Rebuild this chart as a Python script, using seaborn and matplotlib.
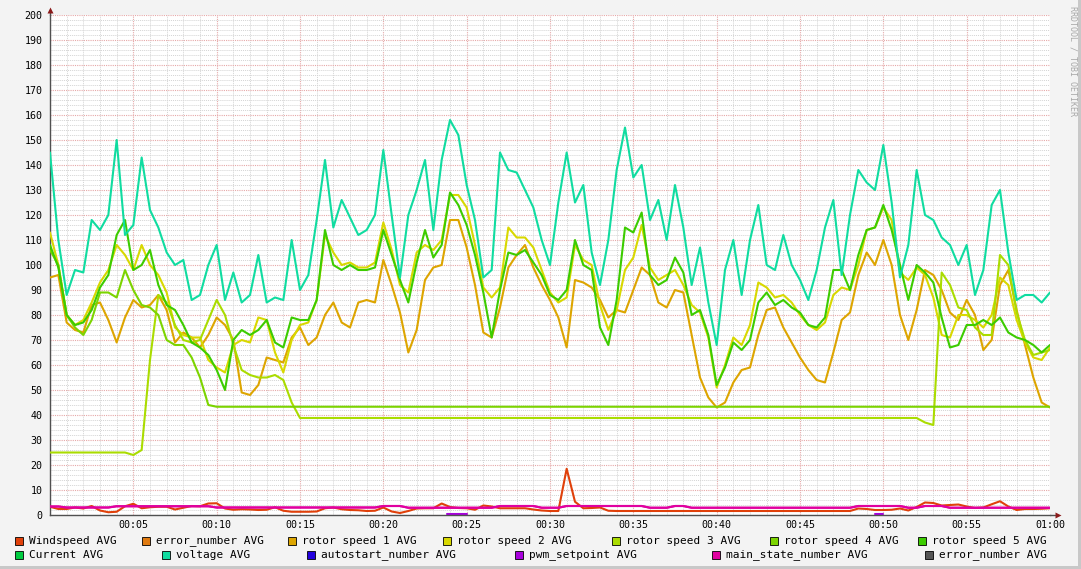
import numpy as np
import pandas as pd
import seaborn as sns
import matplotlib.pyplot as plt
from matplotlib.patches import Rectangle
from matplotlib.lines import Line2D
from matplotlib.ticker import MultipleLocator

# one sample every 30 s over the hour
minutes = np.arange(121) * 0.5

windspeed = [
    3.3, 2.4, 2.4, 3.0, 2.6, 3.6, 1.8, 1.1, 1.3, 3.5,
    4.5, 2.7, 3.1, 3.3, 3.3, 2.2, 2.9, 3.6, 3.5, 4.6,
    4.7, 2.6, 2.1, 2.3, 2.2, 2.0, 2.1, 3.1, 1.7, 1.3,
    1.3, 1.3, 1.4, 2.7, 3.0, 2.3, 2.0, 1.9, 1.6, 1.7,
    3.0, 1.4, 0.8, 1.6, 2.6, 2.7, 2.7, 4.6, 3.2, 2.8,
    2.7, 2.1, 3.8, 3.4, 2.7, 2.7, 2.7, 2.7, 2.2, 1.8,
    1.6, 1.6, 18.5, 5.3, 2.7, 2.8, 3.0, 1.7, 1.6, 1.6,
    1.6, 1.6, 1.6, 1.6, 1.6, 1.6, 1.6, 1.6, 1.6, 1.6,
    1.6, 1.6, 1.6, 1.6, 1.6, 1.6, 1.6, 1.6, 1.6, 1.6,
    1.6, 1.6, 1.6, 1.6, 1.6, 1.6, 1.6, 2.6, 2.4, 2.0,
    2.0, 2.1, 2.6, 1.8, 3.2, 5.0, 4.8, 3.8, 4.0, 4.2,
    3.4, 2.8, 3.0, 4.3, 5.5, 3.4, 2.0, 2.4, 2.4, 2.5,
    2.7,
]

rotor1 = [
    95, 96, 77, 74, 73, 84, 85, 78, 69, 79,
    86, 83, 84, 88, 82, 69, 73, 71, 67, 72,
    79, 76, 70, 49, 48, 52, 63, 62, 61, 71,
    75, 68, 71, 80, 85, 77, 75, 85, 86, 85,
    102, 92, 81, 65, 74, 94, 99, 100, 118, 118,
    107, 92, 73, 71, 83, 99, 104, 108, 99, 92,
    86, 79, 67, 94, 93, 91, 86, 79, 82, 81,
    90, 99, 96, 85, 83, 90, 89, 72, 55, 47,
    43, 45, 53, 58, 59, 72, 82, 83, 75, 69,
    63, 58, 54, 53, 65, 78, 81, 96, 105, 100,
    110, 100, 80, 70, 82, 98, 96, 90, 81, 78,
    86, 80, 66, 70, 92, 98, 82, 68, 55, 45,
    43,
]

rotor2 = [
    113, 100, 80, 76, 78, 85, 93, 98, 108, 104,
    98, 108, 100, 96, 89, 75, 72, 71, 71, 62,
    59, 57, 68, 70, 69, 79, 78, 65, 57, 70,
    76, 77, 86, 112, 105, 100, 101, 99, 99, 101,
    117, 106, 92, 89, 105, 108, 106, 110, 128, 128,
    123, 108, 91, 87, 91, 115, 111, 111, 107, 98,
    89, 85, 87, 108, 102, 100, 84, 74, 82, 98,
    103, 116, 99, 94, 96, 98, 92, 84, 81, 71,
    51, 60, 71, 68, 76, 93, 91, 87, 88, 85,
    80, 76, 74, 77, 88, 91, 90, 100, 114, 115,
    123, 118, 97, 94, 99, 96, 87, 72, 71, 80,
    80, 78, 75, 80, 95, 92, 78, 69, 63, 62,
    67,
]

rotor3 = [
    25, 25, 25, 25, 25, 25, 25, 25, 25, 25,
    24, 26, 62, 88, 85, 76, 70, 69, 70, 78,
    86, 80, 68, 58, 56, 55, 55, 56, 54, 45,
    38.8, 38.8, 38.8, 38.8, 38.8, 38.8, 38.8, 38.8, 38.8, 38.8,
    38.8, 38.8, 38.8, 38.8, 38.8, 38.8, 38.8, 38.8, 38.8, 38.8,
    38.8, 38.8, 38.8, 38.8, 38.8, 38.8, 38.8, 38.8, 38.8, 38.8,
    38.8, 38.8, 38.8, 38.8, 38.8, 38.8, 38.8, 38.8, 38.8, 38.8,
    38.8, 38.8, 38.8, 38.8, 38.8, 38.8, 38.8, 38.8, 38.8, 38.8,
    38.8, 38.8, 38.8, 38.8, 38.8, 38.8, 38.8, 38.8, 38.8, 38.8,
    38.8, 38.8, 38.8, 38.8, 38.8, 38.8, 38.8, 38.8, 38.8, 38.8,
    38.8, 38.8, 38.8, 38.8, 38.8,
    37, 36, 97, 92, 83, 82, 75, 72, 72, 104,
    100, 81, 70, 64, 65, 66,
]

rotor4 = [
    106, 100, 80, 75, 72, 78, 89, 89, 87, 98,
    90, 84, 83, 80, 70, 68, 68, 63, 55, 44,
    43.3, 43.3, 43.3, 43.3, 43.3, 43.3, 43.3, 43.3, 43.3, 43.3,
    43.3, 43.3, 43.3, 43.3, 43.3, 43.3, 43.3, 43.3, 43.3, 43.3,
    43.3, 43.3, 43.3, 43.3, 43.3, 43.3, 43.3, 43.3, 43.3, 43.3,
    43.3, 43.3, 43.3, 43.3, 43.3, 43.3, 43.3, 43.3, 43.3, 43.3,
    43.3, 43.3, 43.3, 43.3, 43.3, 43.3, 43.3, 43.3, 43.3, 43.3,
    43.3, 43.3, 43.3, 43.3, 43.3, 43.3, 43.3, 43.3, 43.3, 43.3,
    43.3, 43.3, 43.3, 43.3, 43.3, 43.3, 43.3, 43.3, 43.3, 43.3,
    43.3, 43.3, 43.3, 43.3, 43.3, 43.3, 43.3, 43.3, 43.3, 43.3,
    43.3, 43.3, 43.3, 43.3, 43.3, 43.3, 43.3, 43.3, 43.3, 43.3,
    43.3, 43.3, 43.3, 43.3, 43.3, 43.3, 43.3, 43.3, 43.3, 43.3,
    43.3,
]

rotor5 = [
    108, 99, 80, 76, 77, 82, 91, 96, 112, 118,
    98, 100, 106, 92, 84, 82, 76, 69, 67, 64,
    58, 50, 70, 74, 72, 74, 78, 69, 67, 79,
    78, 78, 86, 114, 100, 98, 100, 98, 98, 99,
    114, 104, 94, 85, 101, 114, 103, 108, 129, 124,
    116, 104, 89, 71, 90, 105, 104, 106, 101, 96,
    88, 86, 90, 110, 100, 98, 75, 68, 86, 115,
    113, 121, 96, 92, 94, 103, 97, 80, 82, 72,
    52, 59, 69, 66, 70, 85, 89, 84, 86, 83,
    81, 76, 75, 79, 98, 98, 90, 104, 114, 115,
    124, 114, 100, 86, 100, 97, 93, 79, 67, 68,
    76, 76, 78, 76, 79, 73, 71, 70, 68, 65,
    68,
]

voltage = [
    145, 110, 88, 98, 97, 118, 114, 120, 150, 112,
    116, 143, 122, 115, 105, 100, 102, 86, 88, 100,
    108, 86, 97, 85, 88, 104, 85, 87, 86, 110,
    90, 96, 118, 142, 115, 126, 119, 112, 114, 120,
    146, 120, 95, 120, 130, 142, 114, 142, 158, 152,
    132, 118, 95, 98, 145, 138, 137, 130, 123, 110,
    100, 125, 145, 125, 132, 105, 92, 110, 138, 155,
    135, 140, 118, 126, 110, 132, 115, 92, 107, 85,
    68, 98, 110, 88, 110, 124, 100, 98, 112, 100,
    94, 86, 98, 115, 126, 96, 120, 138, 133, 130,
    148, 125, 95, 108, 138, 120, 118, 111, 108, 100,
    108, 88, 98, 124, 130, 105, 86, 88, 88, 85,
    89,
]

main_state = [
    3.4, 3.4, 3.0, 3.0, 3.0, 3.0, 3.0, 3.0, 3.5, 3.5,
    3.5, 3.5, 3.5, 3.5, 3.5, 3.5, 3.5, 3.5, 3.5, 3.5,
    3.0, 3.0, 3.0, 3.0, 3.0, 3.0, 3.0, 3.0, 3.0, 3.0,
    3.0, 3.0, 3.0, 3.0, 3.0, 3.0, 3.0, 3.0, 3.0, 3.0,
    3.6, 3.6, 3.6, 2.9, 2.9, 2.9, 2.9, 2.9, 2.9, 2.9,
    2.9, 2.9, 2.9, 2.9, 3.6, 3.6, 3.6, 3.6, 3.6, 2.9,
    2.9, 2.9, 3.6, 3.6, 3.6, 3.6, 3.6, 3.6, 3.6, 3.6,
    3.6, 3.6, 2.9, 2.9, 2.9, 3.6, 3.6, 2.9, 2.9, 2.9,
    2.9, 2.9, 2.9, 2.9, 2.9, 2.9, 2.9, 2.9, 2.9, 2.9,
    2.9, 2.9, 2.9, 2.9, 2.9, 2.9, 2.9, 3.6, 3.6, 3.6,
    3.6, 3.6, 3.6, 2.9, 2.9, 3.6, 3.6, 3.6, 2.9, 2.9,
    2.9, 2.9, 2.9, 2.9, 2.9, 2.9, 2.9, 2.9, 2.9, 2.9,
    2.9,
]

# pwm_setpoint only shows up in two short bursts
pwm_start = [23.8, 49.5]
pwm_end = [25.0, 50.0]
pwm_value = [0.3, 0.3]

legend_labels = [
    'Windspeed AVG', 'error_number AVG', 'rotor speed 1 AVG', 'rotor speed 2 AVG',
    'rotor speed 3 AVG', 'rotor speed 4 AVG', 'rotor speed 5 AVG',
    'Current AVG', 'voltage AVG', 'autostart_number AVG', 'pwm_setpoint AVG',
    'main_state_number AVG', 'error_number AVG ',
]
legend_colors = [
    '#E0400A', '#E07A10', '#DDA500', '#D8D800', '#AADC00', '#7CD400', '#3CCC00',
    '#00CC40', '#10DCA0', '#2200DD', '#A800DD', '#E000A0', '#555555',
]
palette = dict(zip(legend_labels, legend_colors))

series = {
    'Windspeed AVG': windspeed,
    'rotor speed 1 AVG': rotor1,
    'rotor speed 2 AVG': rotor2,
    'rotor speed 3 AVG': rotor3,
    'rotor speed 4 AVG': rotor4,
    'rotor speed 5 AVG': rotor5,
    'voltage AVG': voltage,
    'main_state_number AVG': main_state,
}

df = pd.DataFrame(series)
df['minute'] = minutes
long_df = df.melt(id_vars='minute', var_name='series', value_name='value')

sns.set_theme(style='white')
plt.rcParams['font.family'] = ['DejaVu Sans Mono']

W, H = 1081, 569
fig = plt.figure(figsize=(W / 100, H / 100), dpi=100)
fig.patch.set_facecolor('#F3F3F3')
ax = fig.add_axes([50 / W, 54 / H, 1000 / W, 500 / H])
ax.set_facecolor('white')

hue_order = [l for l in legend_labels if l in series]
sns.lineplot(data=long_df, x='minute', y='value', hue='series', hue_order=hue_order,
             palette=palette, linewidth=1.5, legend=False, estimator=None,
             errorbar=None, ax=ax, zorder=3)
for s, e, v in zip(pwm_start, pwm_end, pwm_value):
    sns.lineplot(x=[s, e], y=[v, v], color=palette['pwm_setpoint AVG'], linewidth=1.5, ax=ax)
# redraw main state on top (it comes after pwm in the legend order)
sns.lineplot(x=minutes, y=main_state, color=palette['main_state_number AVG'],
             linewidth=1.5, ax=ax, zorder=4)

ax.set_xlim(0, 60)
ax.set_ylim(0, 200)
ax.set_xlabel('')
ax.set_ylabel('')

ax.xaxis.set_major_locator(MultipleLocator(5))
ax.xaxis.set_minor_locator(MultipleLocator(1))
ax.yaxis.set_major_locator(MultipleLocator(10))
ax.yaxis.set_minor_locator(MultipleLocator(2))
xt = np.arange(0, 61, 5)
ax.set_xticks(xt)
ax.set_xticklabels([''] + ['%02d:%02d' % (m // 60, m % 60) for m in xt[1:]])

ax.grid(which='minor', color='#D4D4D4', linestyle=(0, (1, 1)), linewidth=0.7)
ax.grid(which='major', color='#E6A8A8', linestyle=(0, (1, 1)), linewidth=0.8)
ax.set_axisbelow(True)

for side in ['top', 'right']:
    ax.spines[side].set_visible(False)
for side in ['left', 'bottom']:
    ax.spines[side].set_color('#505050')
    ax.spines[side].set_linewidth(1.0)

ax.tick_params(which='major', length=3, width=0.8, color='#D08080', direction='inout',
               labelsize=7.2, labelcolor='black')
ax.tick_params(which='minor', length=2, width=0.6, color='#999999', direction='inout')
ax.tick_params(axis='y', pad=4)
ax.tick_params(axis='x', pad=2)

# axis arrows
ax.add_line(Line2D([0, 0], [200, 202], color='#505050', lw=1.0, clip_on=False))
ax.add_line(Line2D([60, 60.3], [0, 0], color='#505050', lw=1.0, clip_on=False))
ax.plot([0], [202.2], marker='^', ms=4.5, color='#8B1A1A', clip_on=False, mec='none')
ax.plot([60.45], [0], marker='>', ms=4.5, color='#8B1A1A', clip_on=False, mec='none')

# frame shading
fig.add_artist(Rectangle((1 - 3 / W, 0), 3 / W, 1, transform=fig.transFigure,
                         color='#C8C8C8', lw=0))
fig.add_artist(Rectangle((0, 0), 1, 3 / H, transform=fig.transFigure,
                         color='#C8C8C8', lw=0))

fig.text(1073 / W, 1 - 6 / H, 'RRDTOOL / TOBI OETIKER', rotation=270, ha='center',
         va='top', fontsize=6, color='#A8A8A8')

# legend, rrdtool style
rows = [
    (541, [15, 142, 288, 443, 612, 770, 918], legend_labels[:7]),
    (555, [15, 162, 307, 515, 712, 925], legend_labels[7:]),
]
for y, xs, labels in rows:
    for x, lab in zip(xs, labels):
        fig.add_artist(Rectangle((x / W, 1 - (y + 4) / H), 8 / W, 8 / H,
                                 transform=fig.transFigure, facecolor=palette[lab],
                                 edgecolor='black', lw=0.6))
        fig.text((x + 14) / W, 1 - y / H, lab.strip(), fontsize=8, va='center',
                 ha='left', color='black')

fig.savefig('out.png', dpi=100, facecolor=fig.get_facecolor())
